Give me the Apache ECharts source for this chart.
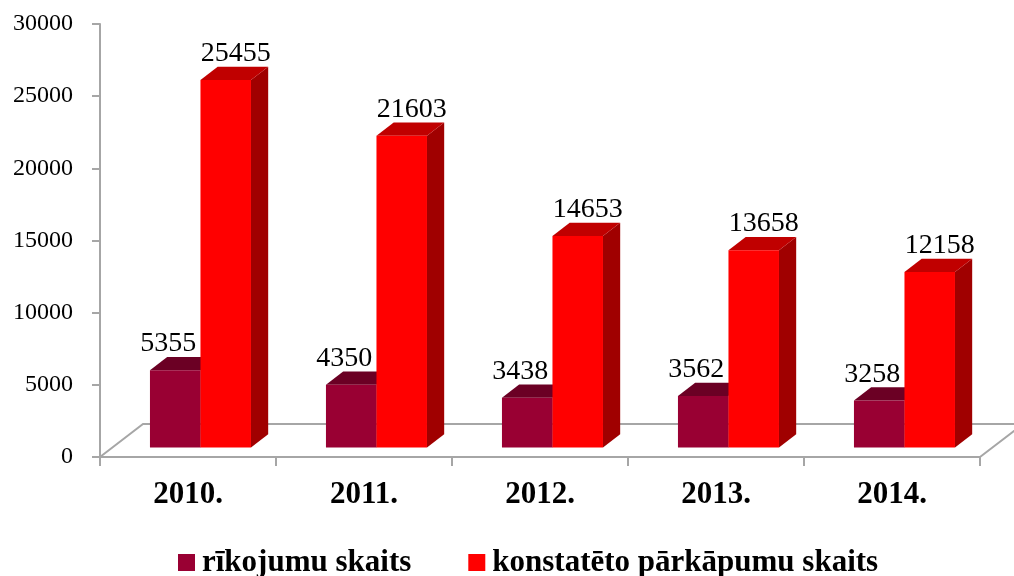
<!DOCTYPE html>
<html>
<head>
<meta charset="utf-8">
<script src="https://cdn.jsdelivr.net/npm/echarts@6/dist/echarts.min.js"></script>
<style>
    html, body { margin: 0; padding: 0; background: #fff; }
    #chart { width: 1014px; height: 576px; }
</style>
</head>
<body>
<div id="chart"></div>
<script>
const YEARS = ['2010.', '2011.', '2012.', '2013.', '2014.'];
const NAME1 = 'rīkojumu skaits';
const NAME2 = 'konstatēto pārkāpumu skaits';
const DATA1 = [5355, 4350, 3438, 3562, 3258];
const DATA2 = [25455, 21603, 14653, 13658, 12158];
const Y_TICKS = [0, 5000, 10000, 15000, 20000, 25000, 30000];

const FONT = 'Liberation Serif';
const AXIS_COLOR = '#a6a6a6';

// depth of the 3d floor, in px
const DEPTH_X = 43;
const DEPTH_Y = -33;

const myChart = echarts.init(document.getElementById('chart'));

// floor: back edge + the two side edges
const renderFloor = (params, api) => {
    const cs = params.coordSys;
    const x0 = cs.x, x1 = cs.x + cs.width, yb = cs.y + cs.height;
    return {
        type: 'polyline',
        shape: { points: [[x0, yb], [x0 + DEPTH_X, yb + DEPTH_Y], [x1 + DEPTH_X, yb + DEPTH_Y], [x1, yb]] },
        style: { stroke: AXIS_COLOR, lineWidth: 2, fill: null }
    };
};

const makeBarRender = (side, colors, labelDx) => (params, api) => {
    const idx = api.value(0);
    const val = api.value(1);
    const base = api.coord([idx, 0]);
    const top = api.coord([idx, val]);
    const band = api.size([1, 0])[0];
    const w = band * 0.287;
    const fx = DEPTH_X * 0.29, fy = DEPTH_Y * 0.29;   // bar front plane offset
    const dx = DEPTH_X * 0.4, dy = DEPTH_Y * 0.4;     // bar depth
    const left = base[0] + fx + (side === 0 ? -w : 0);
    const right = left + w;
    const yb = base[1] + fy;
    const yt = top[1] + fy;
    return {
        type: 'group',
        children: [
            { type: 'polygon', shape: { points: [[right, yt], [right + dx, yt + dy], [right + dx, yb + dy], [right, yb]] }, style: { fill: colors.side } },
            { type: 'polygon', shape: { points: [[left, yt], [left + dx, yt + dy], [right + dx, yt + dy], [right, yt]] }, style: { fill: colors.top } },
            { type: 'rect', shape: { x: left, y: yt, width: w, height: yb - yt }, style: { fill: colors.front } },
            {
                type: 'text',
                x: (left + right) / 2 + labelDx,
                y: yt + dy + 1,
                style: { text: String(val), fontFamily: FONT, fontSize: 28, fill: '#000', align: 'center', verticalAlign: 'bottom' }
            }
        ]
    };
};

const option = {
    animation: false,
    grid: {
        left: 100,
        right: 34,
        top: 24,
        bottom: 119
    },
    legend: {
        data: [NAME1, NAME2],
        left: 173,
        top: 542,
        icon: 'rect',
        itemWidth: 17,
        itemHeight: 17,
        itemGap: 57,
        textStyle: { fontFamily: FONT, fontSize: 31, fontWeight: 'bold', color: '#000', padding: [0, 0, 0, 2] }
    },
    xAxis: {
        type: 'category',
        data: YEARS,
        axisLine: { lineStyle: { color: AXIS_COLOR, width: 2 } },
        axisTick: { show: true, length: 9, lineStyle: { color: AXIS_COLOR, width: 2 } },
        axisLabel: { fontFamily: FONT, fontSize: 31, fontWeight: 'bold', color: '#000', margin: 22 }
    },
    yAxis: {
        type: 'value',
        min: Y_TICKS[0],
        max: Y_TICKS[Y_TICKS.length - 1],
        interval: Y_TICKS[1] - Y_TICKS[0],
        axisLine: { show: true, lineStyle: { color: AXIS_COLOR, width: 2 } },
        axisTick: { show: true, length: 8, lineStyle: { color: AXIS_COLOR, width: 2 } },
        axisLabel: { fontFamily: FONT, fontSize: 24, color: '#000', margin: 27, formatter: v => String(v) },
        splitLine: { show: false }
    },
    series: [
        {
            type: 'custom',
            renderItem: renderFloor,
            data: [[0, 0]],
            silent: true,
            z: 1
        },
        {
            name: NAME1,
            type: 'custom',
            itemStyle: { color: '#990033' },
            renderItem: makeBarRender(0, { front: '#990033', top: '#6b0024', side: '#7a0029' }, -7),
            encode: { x: 0, y: 1 },
            data: DATA1.map((v, i) => [i, v]),
            z: 2
        },
        {
            name: NAME2,
            type: 'custom',
            itemStyle: { color: '#ff0000' },
            renderItem: makeBarRender(1, { front: '#ff0000', top: '#c00000', side: '#a00000' }, 10),
            encode: { x: 0, y: 1 },
            data: DATA2.map((v, i) => [i, v]),
            z: 3
        }
    ]
};

myChart.setOption(option);
</script>
</body>
</html>
